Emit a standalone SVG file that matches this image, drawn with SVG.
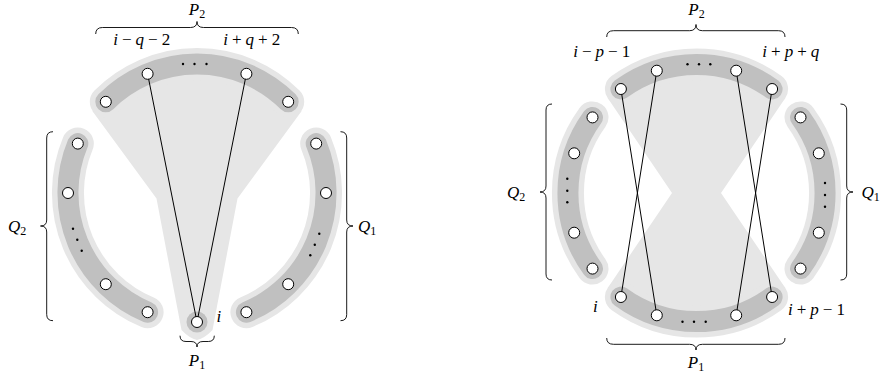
<svg xmlns="http://www.w3.org/2000/svg" width="883" height="380" viewBox="0 0 883 380">
<style>
.lt{fill:none;stroke:#e6e6e6;stroke-width:32;stroke-linecap:round}
.dk{fill:none;stroke:#c0c0c0;stroke-width:21;stroke-linecap:round}
.reg{fill:#e6e6e6;stroke:none}
.nd{fill:#fff;stroke:#000;stroke-width:1}
.ed{stroke:#000;stroke-width:1;fill:none}
.br{stroke:#000;stroke-width:0.9;fill:none}
.dot{fill:#000}
.lb{font-family:'Liberation Serif','DejaVu Serif',serif;font-size:17px;fill:#000}
.it{font-style:italic}
.sb{font-size:12px}
</style>
<rect width="883" height="380" fill="#fff"/>
<g id="left-regions">
<path class="reg" d="M105.8,101.8 A129,129 0 0 1 288.2,101.8 L301.5,111.3 L237.5,198.5 L212.5,330 Q205,338 197,340 Q189,338 181.5,330 L156.5,198.5 L92.5,111.3 Z"/>
<path class="lt" d="M105.8,101.8 A129,129 0 0 1 288.2,101.8"/>
<path class="lt" d="M316.2,143.6 A129,129 0 0 1 246.4,312.2"/>
<path class="lt" d="M147.6,312.2 A129,129 0 0 1 77.8,143.6"/>
<path class="dk" d="M105.8,101.8 A129,129 0 0 1 288.2,101.8"/>
<path class="dk" d="M316.2,143.6 A129,129 0 0 1 246.4,312.2"/>
<path class="dk" d="M147.6,312.2 A129,129 0 0 1 77.8,143.6"/>
<circle cx="197" cy="322" r="10.5" fill="#c0c0c0"/>
</g>
<g id="right-regions">
<path class="reg" d="M620.9,89 A128.6,128.6 0 0 1 772.1,89 L785.3,98.1 L721,193 L785.3,287.9 L772.1,297 A128.6,128.6 0 0 1 620.9,297 L607.7,287.9 L672,193 L607.7,98.1 Z"/>
<path class="lt" d="M620.9,89 A128.6,128.6 0 0 1 772.1,89"/>
<path class="lt" d="M800.5,117.4 A128.6,128.6 0 0 1 800.5,268.6"/>
<path class="lt" d="M772.1,297 A128.6,128.6 0 0 1 620.9,297"/>
<path class="lt" d="M592.5,268.6 A128.6,128.6 0 0 1 592.5,117.4"/>
<path class="dk" d="M620.9,89 A128.6,128.6 0 0 1 772.1,89"/>
<path class="dk" d="M800.5,117.4 A128.6,128.6 0 0 1 800.5,268.6"/>
<path class="dk" d="M772.1,297 A128.6,128.6 0 0 1 620.9,297"/>
<path class="dk" d="M592.5,268.6 A128.6,128.6 0 0 1 592.5,117.4"/>
</g>
<g id="connectors">
<line class="ed" x1="197" y1="322" x2="147.6" y2="73.8"/>
<line class="ed" x1="197" y1="322" x2="246.4" y2="73.8"/>
<line class="ed" x1="620.9" y1="89" x2="656.8" y2="315.3"/>
<line class="ed" x1="656.8" y1="70.7" x2="620.9" y2="297"/>
<line class="ed" x1="736.2" y1="70.7" x2="772.1" y2="297"/>
<line class="ed" x1="772.1" y1="89" x2="736.2" y2="315.3"/>
</g>
<g id="L-P2"><circle class="nd" cx="105.8" cy="101.8" r="5.5"/><circle class="nd" cx="147.6" cy="73.8" r="5.5"/><circle class="nd" cx="246.4" cy="73.8" r="5.5"/><circle class="nd" cx="288.2" cy="101.8" r="5.5"/>
<circle class="dot" cx="183" cy="64" r="1.2"/><circle class="dot" cx="194.5" cy="64" r="1.2"/><circle class="dot" cx="206.5" cy="64" r="1.2"/></g>
<g id="L-Q1"><circle class="nd" cx="316.2" cy="143.6" r="5.5"/><circle class="nd" cx="326" cy="193" r="5.5"/><circle class="nd" cx="288.2" cy="284.2" r="5.5"/><circle class="nd" cx="246.4" cy="312.2" r="5.5"/>
<circle class="dot" cx="319.3" cy="233.7" r="1.2"/><circle class="dot" cx="314.8" cy="244.8" r="1.2"/><circle class="dot" cx="310.3" cy="255.3" r="1.2"/></g>
<g id="L-Q2"><circle class="nd" cx="77.8" cy="143.6" r="5.5"/><circle class="nd" cx="68" cy="193" r="5.5"/><circle class="nd" cx="105.8" cy="284.2" r="5.5"/><circle class="nd" cx="147.6" cy="312.2" r="5.5"/>
<circle class="dot" cx="73" cy="228.7" r="1.2"/><circle class="dot" cx="77.3" cy="239.7" r="1.2"/><circle class="dot" cx="81.7" cy="250.7" r="1.2"/></g>
<g id="L-P1"><circle class="nd" cx="197" cy="322" r="5.5"/></g>
<g id="R-P2"><circle class="nd" cx="620.9" cy="89" r="5.5"/><circle class="nd" cx="656.8" cy="70.7" r="5.5"/><circle class="nd" cx="736.2" cy="70.7" r="5.5"/><circle class="nd" cx="772.1" cy="89" r="5.5"/>
<circle class="dot" cx="687.5" cy="64.3" r="1.2"/><circle class="dot" cx="699" cy="64.3" r="1.2"/><circle class="dot" cx="710.3" cy="64.3" r="1.2"/></g>
<g id="R-Q1"><circle class="nd" cx="800.5" cy="117.4" r="5.5"/><circle class="nd" cx="818.8" cy="153.3" r="5.5"/><circle class="nd" cx="818.8" cy="232.7" r="5.5"/><circle class="nd" cx="800.5" cy="268.6" r="5.5"/>
<circle class="dot" cx="825" cy="183" r="1.2"/><circle class="dot" cx="825" cy="195" r="1.2"/><circle class="dot" cx="825" cy="206.7" r="1.2"/></g>
<g id="R-P1"><circle class="nd" cx="620.9" cy="297" r="5.5"/><circle class="nd" cx="656.8" cy="315.3" r="5.5"/><circle class="nd" cx="736.2" cy="315.3" r="5.5"/><circle class="nd" cx="772.1" cy="297" r="5.5"/>
<circle class="dot" cx="682.5" cy="321.7" r="1.2"/><circle class="dot" cx="694" cy="321.7" r="1.2"/><circle class="dot" cx="705.7" cy="321.7" r="1.2"/></g>
<g id="R-Q2"><circle class="nd" cx="592.5" cy="117.4" r="5.5"/><circle class="nd" cx="574.2" cy="153.3" r="5.5"/><circle class="nd" cx="574.2" cy="232.7" r="5.5"/><circle class="nd" cx="592.5" cy="268.6" r="5.5"/>
<circle class="dot" cx="567.3" cy="178.7" r="1.2"/><circle class="dot" cx="567.3" cy="190.7" r="1.2"/><circle class="dot" cx="567.3" cy="202.3" r="1.2"/></g>
<g id="braces">
<path class="br" d="M95.7,34 Q95.7,27.5 102.5,27.5 L190.5,27.5 Q197,27.5 197,21.5 Q197,27.5 203.5,27.5 L291.5,27.5 Q298.3,27.5 298.3,34"/>
<path class="br" d="M180,335.7 Q180,341.5 186,341.5 L191,341.5 Q197,341.5 197,347 Q197,341.5 203,341.5 L208.3,341.5 Q214.3,341.5 214.3,335.7"/>
<path class="br" d="M53,131.7 Q46.7,131.7 46.7,138 L46.7,220 Q46.7,226 40.5,226 Q46.7,226 46.7,232 L46.7,314.5 Q46.7,320.7 53,320.7"/>
<path class="br" d="M340.5,131.7 Q346.7,131.7 346.7,138 L346.7,220 Q346.7,226 353,226 Q346.7,226 346.7,232 L346.7,314.5 Q346.7,320.7 340.5,320.7"/>
<path class="br" d="M606.7,37 Q606.7,30.7 613.5,30.7 L689.5,30.7 Q696,30.7 696,24.5 Q696,30.7 702.5,30.7 L778.5,30.7 Q785,30.7 785,37"/>
<path class="br" d="M606.7,338 Q606.7,344.3 613.5,344.3 L689.5,344.3 Q696,344.3 696,350 Q696,344.3 702.5,344.3 L778.5,344.3 Q785,344.3 785,338"/>
<path class="br" d="M552,104 Q546,104 546,110 L546,186 Q546,192 540,192 Q546,192 546,198 L546,274 Q546,280 552,280"/>
<path class="br" d="M840.5,104 Q846.7,104 846.7,110 L846.7,186 Q846.7,192 853,192 Q846.7,192 846.7,198 L846.7,274 Q846.7,280 840.5,280"/>
</g>
<g id="labels">
<text class="lb" x="197" y="15" text-anchor="middle"><tspan class="it">P</tspan><tspan class="sb" dy="3">2</tspan></text>
<text class="lb" x="141.7" y="45" text-anchor="middle"><tspan class="it">i</tspan><tspan dx="4">−</tspan><tspan class="it" dx="4">q</tspan><tspan dx="4">−</tspan><tspan dx="4">2</tspan></text>
<text class="lb" x="251.7" y="45" text-anchor="middle"><tspan class="it">i</tspan><tspan dx="4">+</tspan><tspan class="it" dx="4">q</tspan><tspan dx="4">+</tspan><tspan dx="4">2</tspan></text>
<text class="lb" x="8" y="232"><tspan class="it">Q</tspan><tspan class="sb" dy="3">2</tspan></text>
<text class="lb" x="358" y="232"><tspan class="it">Q</tspan><tspan class="sb" dy="3">1</tspan></text>
<text class="lb" x="197" y="366" text-anchor="middle"><tspan class="it">P</tspan><tspan class="sb" dy="3">1</tspan></text>
<text class="lb it" x="216.5" y="322">i</text>
<text class="lb" x="696.5" y="15" text-anchor="middle"><tspan class="it">P</tspan><tspan class="sb" dy="3">2</tspan></text>
<text class="lb" x="601.7" y="57" text-anchor="middle"><tspan class="it">i</tspan><tspan dx="4">−</tspan><tspan class="it" dx="4">p</tspan><tspan dx="4">−</tspan><tspan dx="4">1</tspan></text>
<text class="lb" x="790.8" y="57" text-anchor="middle"><tspan class="it">i</tspan><tspan dx="4">+</tspan><tspan class="it" dx="4">p</tspan><tspan dx="4">+</tspan><tspan class="it" dx="4">q</tspan></text>
<text class="lb" x="696" y="368" text-anchor="middle"><tspan class="it">P</tspan><tspan class="sb" dy="3">1</tspan></text>
<text class="lb it" x="593" y="311.5">i</text>
<text class="lb" x="788" y="315"><tspan class="it">i</tspan><tspan dx="4">+</tspan><tspan class="it" dx="4">p</tspan><tspan dx="4">−</tspan><tspan dx="4">1</tspan></text>
<text class="lb" x="507" y="198"><tspan class="it">Q</tspan><tspan class="sb" dy="3">2</tspan></text>
<text class="lb" x="861.5" y="198"><tspan class="it">Q</tspan><tspan class="sb" dy="3">1</tspan></text>
</g>
</svg>
